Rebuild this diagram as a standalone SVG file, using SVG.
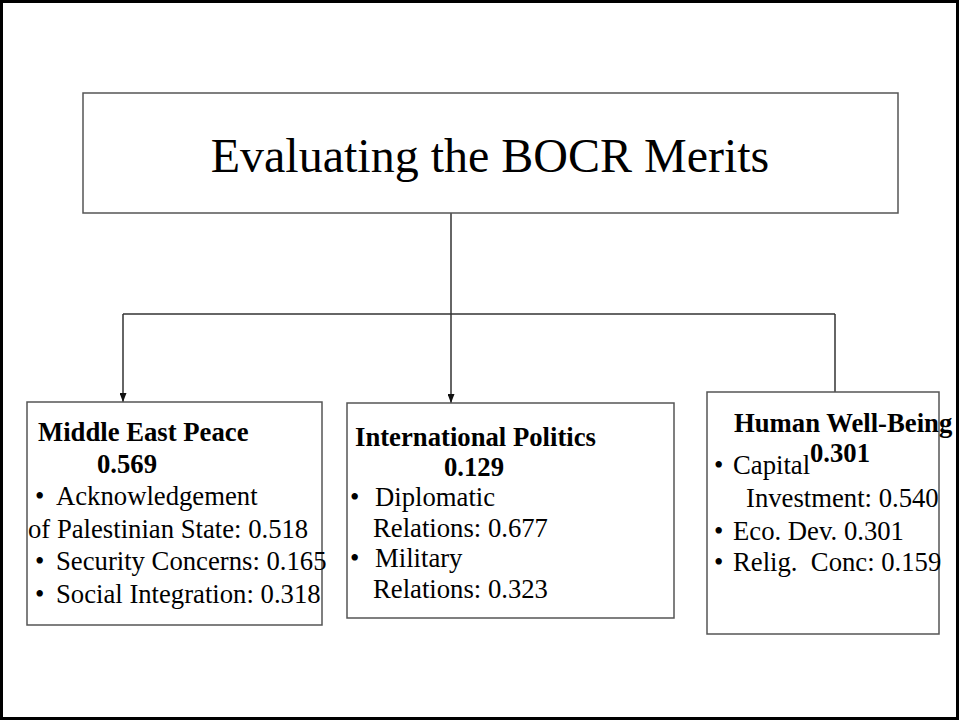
<svg xmlns="http://www.w3.org/2000/svg" width="960" height="721" viewBox="0 0 960 721">
  <style>
    .frame { fill: none; stroke: #000; stroke-width: 3; }
    .box { fill: #fff; stroke: #555; stroke-width: 1.5; }
    .wire { fill: none; stroke: #333; stroke-width: 1.5; }
    text { font-family: "Liberation Serif", "Times New Roman", serif; fill: #000; white-space: pre; }
    .title { font-size: 48px; }
    .hd { font-size: 26.7px; font-weight: bold; }
    .tx { font-size: 26.7px; }
  </style>
  <defs>
    <!-- small solid arrowhead, drawn pointing along +x and rotated with the line -->
    <marker id="arrow" viewBox="0 0 9 7" refX="9" refY="3.5" markerWidth="9" markerHeight="7" markerUnits="userSpaceOnUse" orient="auto">
      <path d="M0,0 L9,3.5 L0,7 Z" fill="#111"/>
    </marker>
  </defs>

  <rect class="frame" x="1.5" y="1.5" width="956" height="717"/>

  <!-- connectors -->
  <g id="connectors">
    <path class="wire" d="M451,213 V314"/>
    <path class="wire" d="M123,314 H835"/>
    <path class="wire" d="M123,314 V402" marker-end="url(#arrow)"/>
    <path class="wire" d="M123,402 V411" stroke="#777"/>
    <path class="wire" d="M451,314 V403" marker-end="url(#arrow)"/>
    <path class="wire" d="M835,314 V392"/>
  </g>

  <!-- goal -->
  <g id="goal">
    <rect class="box" x="83" y="93" width="815" height="120"/>
    <text class="title" x="490" y="172" text-anchor="middle">Evaluating the BOCR Merits</text>
  </g>

  <!-- criterion: Middle East Peace -->
  <g id="middle-east-peace">
    <rect class="box" x="27" y="402" width="295" height="223"/>
    <text class="hd" x="38" y="441">Middle East Peace</text>
    <text class="hd" x="97" y="473">0.569</text>
    <text class="tx" x="35" y="505">•</text>
    <text class="tx" x="56" y="505">Acknowledgement</text>
    <text class="tx" x="28" y="538">of Palestinian State: 0.518</text>
    <text class="tx" x="35" y="570">•</text>
    <text class="tx" x="56" y="570">Security Concerns: 0.165</text>
    <text class="tx" x="35" y="603">•</text>
    <text class="tx" x="56" y="603">Social Integration: 0.318</text>
  </g>

  <!-- criterion: International Politics -->
  <g id="international-politics">
    <rect class="box" x="347" y="403" width="327" height="215"/>
    <text class="hd" x="355" y="446">International Politics</text>
    <text class="hd" x="444" y="476">0.129</text>
    <text class="tx" x="350" y="506">•</text>
    <text class="tx" x="375" y="506">Diplomatic</text>
    <text class="tx" x="373" y="537">Relations: 0.677</text>
    <text class="tx" x="350" y="567">•</text>
    <text class="tx" x="375" y="567">Military</text>
    <text class="tx" x="373" y="598">Relations: 0.323</text>
  </g>

  <!-- criterion: Human Well-Being -->
  <g id="human-well-being">
    <rect class="box" x="707" y="392" width="232" height="242"/>
    <text class="hd" x="734" y="432">Human Well-Being</text>
    <text class="tx" x="714" y="474">•</text>
    <text class="tx" x="733" y="474">Capital</text>
    <text class="hd" x="810" y="462">0.301</text>
    <text class="tx" x="746" y="507">Investment: 0.540</text>
    <text class="tx" x="714" y="540">•</text>
    <text class="tx" x="733" y="540">Eco. Dev. 0.301</text>
    <text class="tx" x="714" y="571">•</text>
    <text class="tx" x="733" y="571">Relig.  Conc: 0.159</text>
  </g>
</svg>
